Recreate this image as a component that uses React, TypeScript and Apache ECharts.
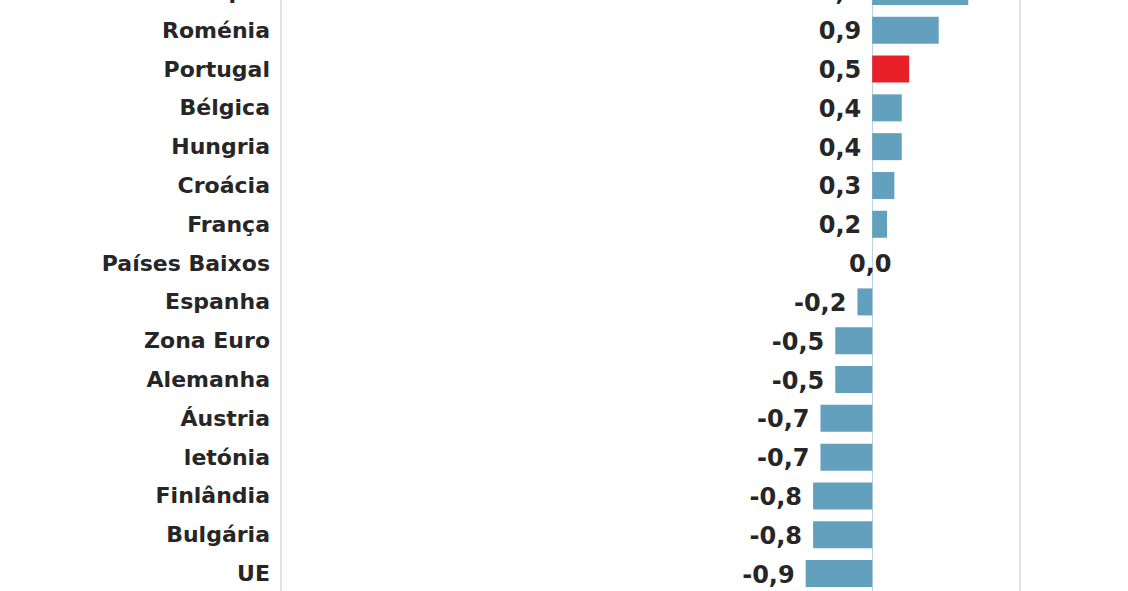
import * as echarts from "echarts";
import React, { useEffect, useRef } from "react";

// países, de cima para baixo
const countries = [
  "Chipre",
  "Roménia",
  "Portugal",
  "Bélgica",
  "Hungria",
  "Croácia",
  "França",
  "Países Baixos",
  "Espanha",
  "Zona Euro",
  "Alemanha",
  "Áustria",
  "letónia",
  "Finlândia",
  "Bulgária",
  "UE",
];
const values = [1.3, 0.9, 0.5, 0.4, 0.4, 0.3, 0.2, 0.0, -0.2, -0.5, -0.5, -0.7, -0.7, -0.8, -0.8, -0.9];
const highlight = "Portugal";

const BLUE = "#62a0bd";
const RED = "#e8202a";
const FONT = "'DejaVu Sans', sans-serif";

const fmt = (v: number) => v.toFixed(1).replace(".", ",");

const App: React.FC = () => {
  const chartRef = useRef<HTMLDivElement | null>(null);

  useEffect(() => {
    const chart = echarts.init(chartRef.current, null, { renderer: "svg" });
    chart.setOption({
      animation: false,
      grid: {
        left: 281,
        right: 108,
        top: 0,
        bottom: 0,
        show: true,
        borderColor: "#c8c8c8",
        borderWidth: 1,
      },
      xAxis: {
        type: "value",
        min: -8,
        max: 2,
        show: false,
      },
      yAxis: {
        type: "category",
        inverse: true,
        data: countries,
        axisLine: { onZero: true, lineStyle: { color: "#b9d3df", width: 1 } },
        axisTick: { show: false },
        axisLabel: {
          margin: 11,
          color: "#262626",
          fontFamily: FONT,
          fontWeight: "bold",
          fontSize: 22,
        },
        splitLine: { show: false },
      },
      series: [
        {
          type: "bar",
          barWidth: 27,
          data: values.map((v, i) => ({
            value: v,
            itemStyle: { color: countries[i] === highlight ? RED : BLUE },
            label: v === 0 ? { position: "inside", offset: [-2, 1] } : undefined,
          })),
          label: {
            show: true,
            position: "left",
            distance: 11,
            offset: [0, 1],
            color: "#262626",
            fontFamily: FONT,
            fontWeight: "bold",
            fontSize: 24,
            formatter: (p: any) => fmt(p.value),
          },
        },
      ],
    });
    return () => chart.dispose();
  }, []);

  return (
    <div
      style={{
        position: "fixed",
        left: 0,
        top: 0,
        width: 1128,
        height: 591,
        overflow: "hidden",
        background: "#fff",
      }}
    >
      <div
        ref={chartRef}
        style={{ position: "absolute", left: 0, top: -28, width: 1128, height: 621 }}
      />
    </div>
  );
};

export default App;
